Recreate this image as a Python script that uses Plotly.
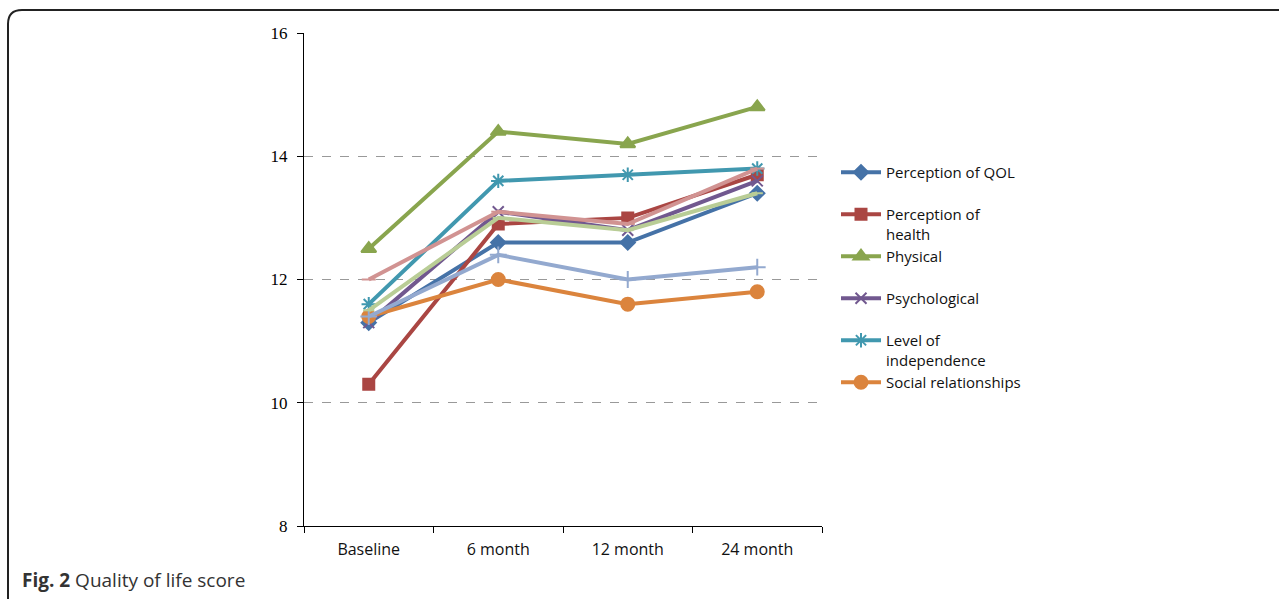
import plotly.graph_objects as go

# Quality of life score over follow-up
timepoints = ["Baseline", "6 month", "12 month", "24 month"]

perception_qol = [11.3, 12.6, 12.6, 13.4]
perception_health = [10.3, 12.9, 13.0, 13.7]
physical = [12.5, 14.4, 14.2, 14.8]
psychological = [11.3, 13.1, 12.8, 13.6]
level_independence = [11.6, 13.6, 13.7, 13.8]
social_relationships = [11.4, 12.0, 11.6, 11.8]
environment = [11.4, 12.4, 12.0, 12.2]
spirituality = [12.0, 13.1, 12.9, 13.8]
overall = [11.5, 13.0, 12.8, 13.4]

series = [
    ("Perception of QOL<br> ", perception_qol, "#4572A7", "diamond", 11, True),
    ("Perception of<br>health", perception_health, "#AA4643", "square", 11, True),
    ("Physical<br> ", physical, "#89A54E", "triangle-up", 13, True),
    ("Psychological<br> ", psychological, "#71588F", "x-thin", 11, True),
    ("Level of<br>independence", level_independence, "#4198AF", "asterisk", 12, True),
    ("Social relationships<br> ", social_relationships, "#DB843D", "circle", 13, True),
    ("Environment", environment, "#93A9CF", "cross-thin", 12, False),
    ("Spirituality", spirituality, "#D19392", "line-ew", 10, False),
    ("Overall", overall, "#B9CD96", "line-ew", 8, False),
]

fig = go.Figure()
for i, (name, vals, color, sym, size, show) in enumerate(series):
    fig.add_trace(go.Scatter(
        x=timepoints, y=vals, name=name, mode="lines+markers",
        line=dict(color=color, width=4),
        marker=dict(symbol=sym, size=size, color=color,
                    line=dict(color=color, width=2)),
        showlegend=show, legendgroup=f"g{i}",
    ))

W, H = 1279, 599
L, R, T, B = 304, 822, 33, 526


def px(x):
    return (x - L) / (R - L)


def py(y):
    return (B - y) / (B - T)


# Rounded frame around the figure
r = 14
x0, yt, yb, xr = px(8), py(10), py(640), px(1300)
frame = (f"M {x0},{yb} L {x0},{py(10 + r)} "
         f"Q {x0},{yt} {px(8 + r)},{yt} L {xr},{yt}")

fig.update_layout(
    width=W, height=H,
    margin=dict(l=L, r=W - R, t=T, b=H - B),
    plot_bgcolor="white", paper_bgcolor="white",
    showlegend=True,
    legend=dict(
        x=px(836), xanchor="left", y=py(156), yanchor="top",
        font=dict(family="Open Sans", size=15, color="#111"),
        traceorder="grouped", tracegroupgap=0, valign="top",
        itemwidth=40, bgcolor="rgba(0,0,0,0)",
    ),
    xaxis=dict(
        type="category", range=[-0.5, 3.5],
        showline=True, linecolor="#000", linewidth=1,
        ticks="outside", tickson="boundaries", ticklen=6, tickcolor="#000",
        showgrid=False, zeroline=False, ticklabelstandoff=9,
        tickfont=dict(family="Open Sans", size=16, color="#111"),
    ),
    yaxis=dict(
        range=[8, 16], dtick=2, tick0=8,
        showline=True, linecolor="#000", linewidth=1,
        ticks="outside", ticklen=6, tickcolor="#000",
        showgrid=True, gridcolor="#999", griddash="dash", gridwidth=1,
        zeroline=False, ticklabelstandoff=6,
        tickfont=dict(family="Times New Roman, Liberation Serif, serif",
                      size=17, color="#000"),
    ),
    shapes=[dict(type="path", path=frame, xref="paper", yref="paper",
                 line=dict(color="#222", width=2), layer="above")],
    annotations=[dict(
        text="<b>Fig. 2</b> Quality of life score",
        xref="paper", yref="paper", x=px(20), y=py(580),
        xanchor="left", yanchor="middle", showarrow=False,
        font=dict(family="Open Sans", size=19, color="#333"),
    )],
)

fig.write_html("out.html")
